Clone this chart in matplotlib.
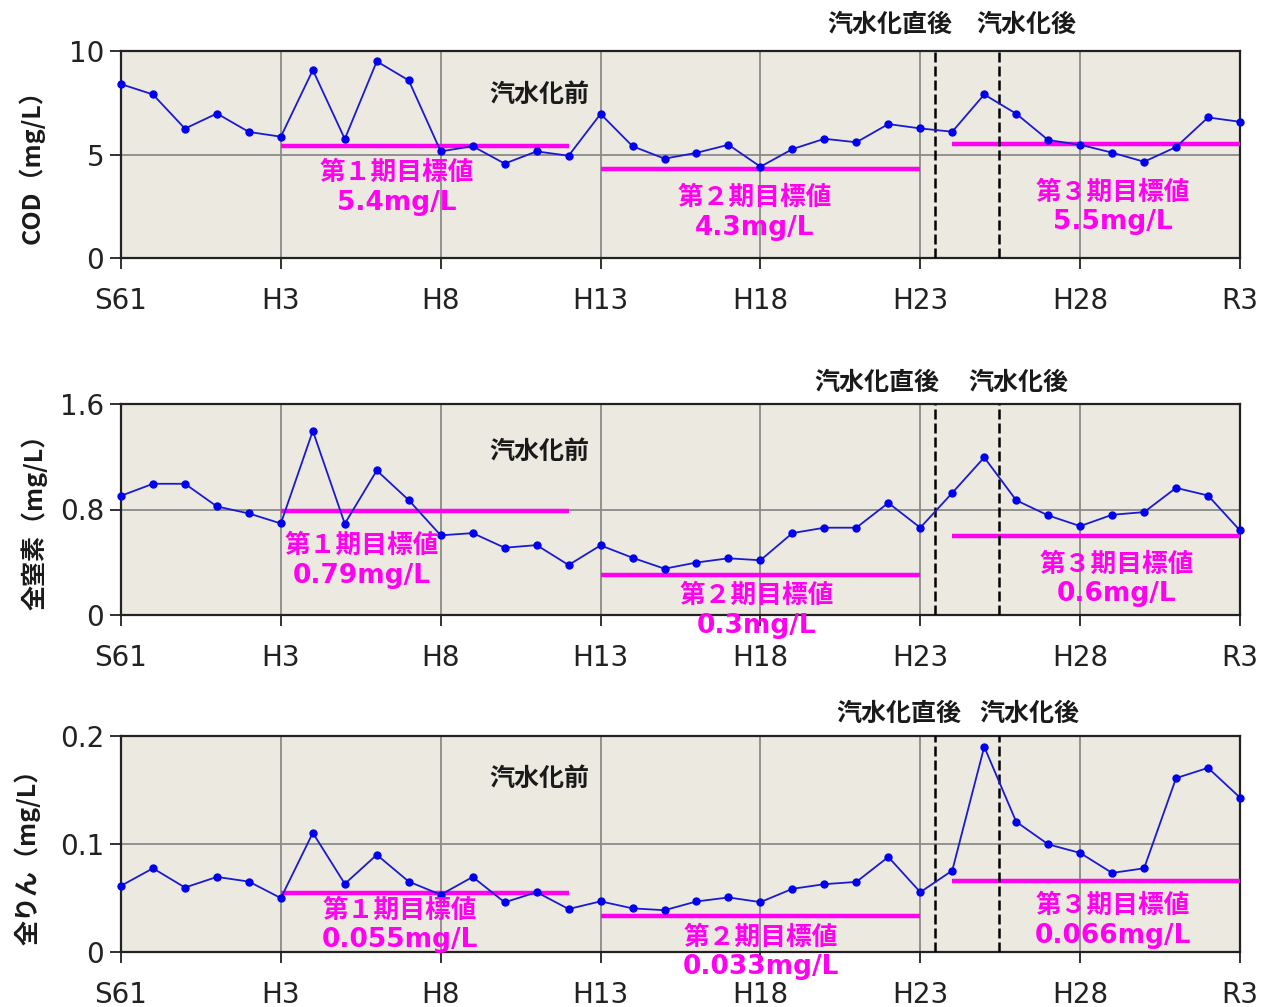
import matplotlib
matplotlib.use("Agg")
import matplotlib.pyplot as plt
import numpy as np
from matplotlib.ticker import FixedLocator, FuncFormatter

plt.rcParams['font.family'] = ['DejaVu Sans', 'Noto Sans CJK JP']

# ---- data ----
years = list(range(36))  # S61 (1986) .. R3 (2021)
xtick_pos = [0, 5, 10, 15, 20, 25, 30, 35]
xtick_labels = ["S61", "H3", "H8", "H13", "H18", "H23", "H28", "R3"]

cod = [8.40, 7.90, 6.25, 6.98, 6.09, 5.86, 9.08, 5.75, 9.50, 8.58,
       5.15, 5.40, 4.56, 5.15, 4.94, 6.96, 5.40, 4.80, 5.08, 5.47,
       4.41, 5.26, 5.76, 5.59, 6.47, 6.26, 6.10, 7.90, 6.97, 5.70,
       5.47, 5.09, 4.65, 5.36, 6.79, 6.58]
tn = [0.904, 0.995, 0.995, 0.823, 0.770, 0.694, 1.396, 0.692, 1.096, 0.871,
      0.604, 0.621, 0.510, 0.530, 0.379, 0.528, 0.434, 0.351, 0.398, 0.430,
      0.415, 0.621, 0.662, 0.662, 0.850, 0.662, 0.926, 1.195, 0.870, 0.755,
      0.674, 0.760, 0.780, 0.964, 0.906, 0.641]
tp = [0.0613, 0.0775, 0.0597, 0.0695, 0.0652, 0.0499, 0.1103, 0.0631, 0.0900, 0.0652,
      0.0530, 0.0695, 0.0460, 0.0554, 0.0398, 0.0469, 0.0404, 0.0387, 0.0468, 0.0505,
      0.0462, 0.0585, 0.0628, 0.0649, 0.0880, 0.0554, 0.0754, 0.1900, 0.1206, 0.0997,
      0.0917, 0.0732, 0.0775, 0.1610, 0.1705, 0.1430]

# target periods: (start index, end index)
periods = [(5, 14), (15, 25), (26, 35)]
cod_targets = [5.4, 4.3, 5.5]
tn_targets = [0.79, 0.3, 0.6]
tp_targets = [0.055, 0.033, 0.066]
cod_target_texts = ["5.4mg/L", "4.3mg/L", "5.5mg/L"]
tn_target_texts = ["0.79mg/L", "0.3mg/L", "0.6mg/L"]
tp_target_texts = ["0.055mg/L", "0.033mg/L", "0.066mg/L"]
period_names = ["第１期目標値", "第２期目標値", "第３期目標値"]
boundaries = [25.47, 27.46]

ylabels = ["COD（mg/L）", "全窒素（mg/L）", "全りん（mg/L）"]
ylims = [10, 1.6, 0.2]
yticks = [[0, 5, 10], [0, 0.8, 1.6], [0, 0.1, 0.2]]

# ---- layout (figure fractions) ----
W, H = 1266, 1007
left, right = 121 / W, 1240 / W
panels = [(51, 258), (404, 615), (736, 952)]  # top, bottom pixels

# text positions (data coords)
label_pos = [
    dict(before=(13.1, 7.87), names=[(8.63, 4.14), (19.83, 2.93), (31.03, 3.17)],
         vals=[(8.63, 2.64), (19.83, 1.43), (31.03, 1.72)],
         after1=(24.05, 11.26), after2=(28.31, 11.26)),
    dict(before=(13.1, 1.236), names=[(7.54, 0.531), (19.89, 0.152), (31.15, 0.387)],
         vals=[(7.54, 0.296), (19.89, -0.083), (31.15, 0.159)],
         after1=(23.65, 1.759), after2=(28.06, 1.759)),
    dict(before=(13.1, 0.160), names=[(8.73, 0.0389), (20.02, 0.0139), (31.03, 0.0435)],
         vals=[(8.73, 0.0111), (20.02, -0.0139), (31.03, 0.0148)],
         after1=(24.33, 0.2204), after2=(28.4, 0.2204)),
]
ylabel_coords = [(-0.068, 0.47), (-0.066, 0.47), (-0.072, 0.47)]

series = [cod, tn, tp]
targets = [cod_targets, tn_targets, tp_targets]
target_texts = [cod_target_texts, tn_target_texts, tp_target_texts]

fig = plt.figure(figsize=(W / 100, H / 100), dpi=100)
fig.patch.set_facecolor("white")

cjk = ['Noto Sans CJK JP', 'DejaVu Sans']
mag = "#FF00F0"

for i in range(3):
    top, bot = panels[i]
    ax = fig.add_axes([left, 1 - bot / H, right - left, (bot - top) / H])
    ax.set_facecolor("#ECE9E1")
    ax.set_xlim(0, 35)
    ax.set_ylim(0, ylims[i])
    ax.xaxis.set_major_locator(FixedLocator(xtick_pos))
    ax.set_xticklabels(xtick_labels)
    ax.yaxis.set_major_locator(FixedLocator(yticks[i]))
    ax.yaxis.set_major_formatter(FuncFormatter(lambda v, p: "0" if v == 0 else f"{v:g}"))
    ax.grid(True, color="#8a8a8a", linewidth=1.3, zorder=0)
    ax.set_axisbelow(True)
    for s in ax.spines.values():
        s.set_color("#222222")
        s.set_linewidth(1.6)
    ax.tick_params(axis="x", direction="out", length=8, width=1.3, pad=13,
                   labelsize=20, colors="#222222")
    ax.tick_params(axis="y", direction="out", length=8, width=1.3, pad=4,
                   labelsize=20, colors="#222222")

    # targets
    for (a, b), tv in zip(periods, targets[i]):
        ax.plot([a, b], [tv, tv], color=mag, linewidth=3.2, solid_capstyle="butt", zorder=3)

    # boundaries
    for bx in boundaries:
        ax.axvline(bx, color="black", linewidth=1.8, linestyle=(0, (4, 1.6)), zorder=4)

    # series
    ax.plot(years, series[i], color="#1a1ad0", linewidth=1.3, marker="o",
            markersize=5, markerfacecolor="#0000ee", markeredgecolor="#0000ee",
            zorder=5, clip_on=False)

    lp = label_pos[i]
    ax.text(*lp["before"], "汽水化前", family=cjk, fontsize=18, fontweight="bold",
            ha="center", va="center", color="#1a1a1a", zorder=6)
    ax.text(*lp["after1"], "汽水化直後", family=cjk, fontsize=18, fontweight="bold",
            ha="center", va="center", color="#1a1a1a", clip_on=False)
    ax.text(*lp["after2"], "汽水化後", family=cjk, fontsize=18, fontweight="bold",
            ha="center", va="center", color="#1a1a1a", clip_on=False)
    for k in range(3):
        ax.text(*lp["names"][k], period_names[k], family=cjk, fontsize=18.5,
                fontweight="bold", ha="center", va="center", color=mag, zorder=6)
        ax.text(*lp["vals"][k], target_texts[i][k], fontsize=19,
                fontweight="bold", ha="center", va="center", color=mag, zorder=6,
                clip_on=False)

    ax.set_ylabel(ylabels[i], family=cjk, fontsize=18, fontweight="bold", color="#1a1a1a")
    ax.yaxis.set_label_coords(*ylabel_coords[i])

fig.savefig("out.png", dpi=100, facecolor="white")
